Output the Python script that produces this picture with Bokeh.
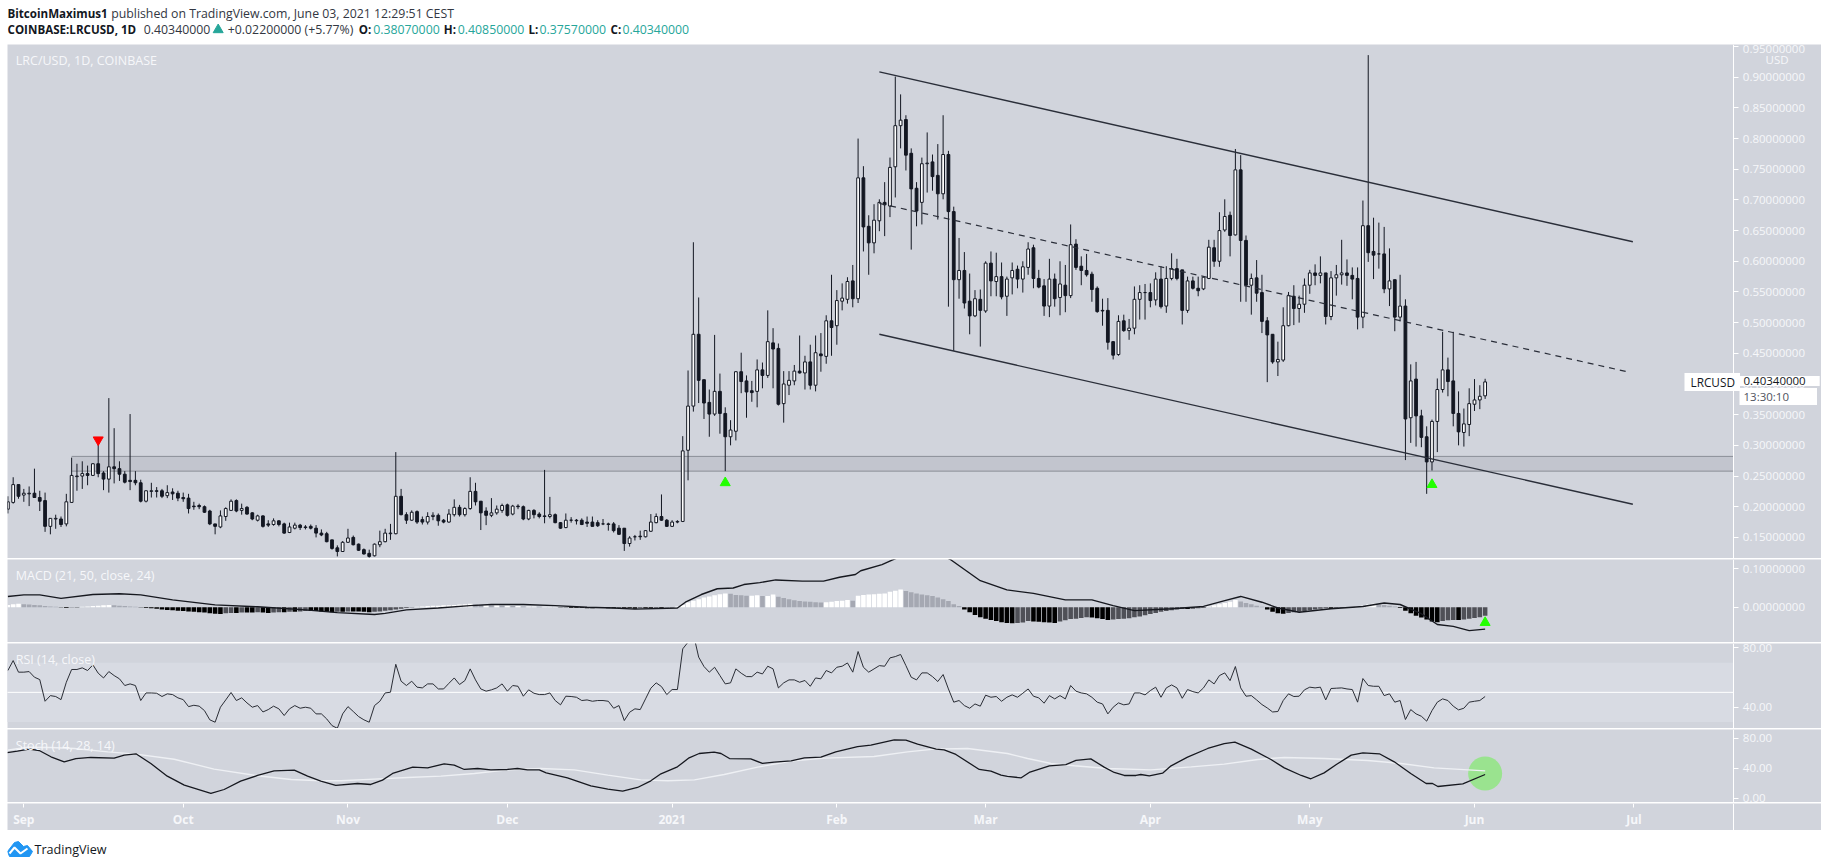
from bokeh.plotting import figure
from bokeh.layouts import column
from bokeh.models import (Range1d, FixedTicker, Label, ColumnDataSource)
from bokeh.embed import file_html
from bokeh.resources import INLINE

# ---------- data (days counted from 2020-09-01) ----------
first_day = -3
opens = [
 .196,.207,.236,.219,.221,.222,.215,.210,.168,.180,
 .180,.172,.207,.249,.250,.254,.251,.270,.255,.245,
 .265,.262,.253,.243,.243,.239,.209,.225,.226,.226,
 .218,.224,.222,.215,.214,.201,.202,.200,.193,.172,
 .167,.184,.194,.210,.194,.199,.190,.178,.185,.172,
 .171,.177,.172,.158,.165,.170,.167,.168,.165,.157,
 .156,.146,.133,.127,.142,.150,.139,.130,.124,.120,
 .138,.143,.156,.156,.217,.187,.178,.192,.179,.175,
 .184,.186,.178,.175,.187,.199,.187,.197,.225,.209,
 .193,.186,.190,.194,.203,.188,.201,.200,.180,.194,
 .188,.185,.184,.187,.174,.166,.178,.178,.178,.175,
 .175,.174,.172,.172,.172,.165,.165,.140,.151,.152,
 .151,.160,.174,.184,.178,.168,.175,.176,.292,.364,
 .481,.407,.370,.351,.388,.352,.314,.323,.420,.405,
 .389,.388,.423,.414,.467,.458,.368,.398,.405,.421,
 .418,.436,.398,.449,.445,.503,.495,.535,.538,.568,
 .539,.736,.657,.630,.666,.696,.690,.754,.821,.831,
 .776,.719,.696,.759,.762,.740,.710,.774,.681,.570,
 .585,.535,.511,.538,.519,.597,.567,.575,.543,.573,
 .587,.571,.590,.622,.572,.560,.527,.571,.541,.561,
 .544,.628,.592,.585,.579,.556,.520,.520,.469,.448,
 .503,.487,.491,.538,.549,.549,.537,.571,.527,.572,
 .588,.586,.520,.568,.556,.555,.572,.622,.600,.651,
 .675,.643,.749,.634,.561,.573,.549,.503,.481,.436,
 .439,.495,.543,.523,.530,.561,.581,.577,.581,.510,
 .573,.578,.581,.577,.572,.509,.658,.616,.612,.612,
 .555,.570,.509,.527,.345,.408,.348,.314,.273,.339,
 .391,.423,.405,.352,.321,.334,.367,.374,.3807]
highs = [
 .217,.248,.236,.229,.233,.262,.226,.223,.181,.187,
 .184,.221,.280,.270,.274,.267,.271,.302,.258,.377,
 .328,.274,.258,.351,.258,.244,.226,.239,.232,.229,
 .235,.230,.226,.223,.221,.208,.205,.202,.195,.172,
 .194,.199,.212,.212,.205,.201,.191,.187,.186,.178,
 .181,.178,.174,.174,.174,.172,.170,.171,.170,.163,
 .159,.146,.137,.144,.164,.153,.140,.132,.130,.140,
 .161,.164,.172,.289,.229,.191,.194,.194,.184,.191,
 .191,.189,.180,.196,.212,.203,.199,.248,.239,.209,
 .199,.214,.202,.205,.205,.203,.204,.202,.195,.196,
 .191,.260,.216,.189,.175,.189,.183,.180,.181,.184,
 .184,.178,.180,.174,.175,.170,.165,.152,.154,.161,
 .162,.188,.189,.220,.180,.178,.178,.315,.422,.631,
 .541,.407,.391,.480,.417,.362,.341,.421,.451,.414,
 .405,.440,.435,.520,.491,.466,.421,.421,.431,.479,
 .446,.464,.479,.483,.512,.578,.553,.564,.574,.594,
 .800,.755,.675,.693,.701,.729,.769,.901,.872,.838,
 .784,.729,.769,.810,.774,.791,.838,.780,.689,.638,
 .615,.580,.553,.554,.600,.616,.614,.598,.575,.598,
 .593,.600,.631,.627,.586,.571,.604,.580,.600,.594,
 .660,.636,.608,.612,.583,.559,.539,.540,.470,.512,
 .513,.506,.559,.561,.563,.564,.582,.592,.592,.613,
 .604,.586,.575,.575,.575,.576,.635,.635,.680,.701,
 .681,.783,.773,.642,.580,.602,.578,.509,.481,.469,
 .525,.550,.561,.544,.572,.586,.595,.608,.581,.584,
 .594,.635,.603,.590,.590,.699,.936,.671,.663,.656,
 .621,.570,.578,.538,.432,.436,.358,.331,.342,.409,
 .485,.443,.485,.388,.360,.393,.408,.398,.4085]
lows = [
 .189,.205,.213,.208,.201,.215,.193,.159,.155,.164,
 .167,.168,.207,.226,.229,.235,.250,.248,.227,.223,
 .238,.242,.238,.227,.235,.207,.207,.215,.215,.214,
 .214,.211,.209,.208,.189,.195,.196,.190,.170,.155,
 .165,.177,.193,.191,.187,.187,.178,.176,.166,.167,
 .169,.168,.156,.157,.163,.162,.163,.163,.150,.152,
 .142,.130,.119,.127,.141,.137,.128,.122,.117,.119,
 .134,.142,.146,.155,.186,.172,.177,.172,.171,.171,
 .178,.169,.173,.174,.184,.184,.184,.195,.202,.162,
 .170,.183,.187,.190,.184,.186,.196,.178,.178,.181,
 .181,.173,.181,.173,.164,.165,.174,.171,.170,.167,
 .168,.167,.170,.161,.158,.154,.128,.135,.145,.146,
 .150,.159,.173,.177,.167,.167,.173,.175,.243,.355,
 .369,.343,.314,.348,.319,.258,.300,.308,.385,.345,
 .371,.362,.393,.410,.393,.365,.337,.382,.398,.417,
 .391,.391,.388,.420,.433,.446,.464,.520,.531,.525,
 .532,.616,.578,.613,.649,.641,.672,.704,.784,.748,
 .619,.657,.660,.712,.715,.668,.701,.526,.454,.539,
 .523,.481,.509,.461,.516,.543,.543,.538,.511,.546,
 .556,.549,.578,.556,.556,.511,.509,.526,.512,.517,
 .540,.586,.561,.575,.534,.516,.495,.456,.440,.446,
 .485,.472,.481,.505,.505,.525,.528,.523,.516,.569,
 .569,.497,.516,.554,.543,.553,.571,.591,.591,.648,
 .608,.642,.534,.534,.513,.534,.483,.403,.433,.413,
 .436,.494,.496,.500,.516,.547,.561,.564,.497,.504,
 .544,.562,.560,.538,.489,.491,.599,.571,.588,.548,
 .527,.486,.502,.276,.304,.298,.297,.221,.259,.289,
 .386,.380,.331,.300,.298,.315,.356,.359,.3757]
closes = [
 .208,.236,.217,.222,.222,.215,.209,.168,.181,.181,
 .171,.208,.251,.250,.254,.251,.270,.254,.245,.265,
 .262,.253,.240,.241,.239,.209,.226,.226,.225,.217,
 .223,.221,.214,.213,.197,.200,.200,.191,.172,.168,
 .185,.197,.209,.193,.197,.188,.180,.185,.168,.170,
 .177,.171,.157,.167,.170,.166,.166,.165,.157,.154,
 .143,.132,.127,.142,.149,.138,.129,.123,.119,.139,
 .143,.157,.157,.217,.187,.178,.191,.175,.175,.184,
 .186,.177,.175,.188,.199,.187,.197,.225,.208,.190,
 .186,.190,.196,.202,.186,.201,.200,.180,.194,.187,
 .184,.184,.187,.174,.165,.178,.178,.177,.171,.173,
 .168,.169,.172,.171,.161,.155,.140,.149,.151,.151,
 .161,.175,.184,.178,.168,.175,.176,.291,.364,.481,
 .406,.369,.351,.388,.352,.314,.325,.420,.404,.387,
 .386,.423,.414,.469,.457,.367,.400,.406,.421,.418,
 .436,.398,.451,.446,.503,.492,.536,.540,.567,.539,
 .736,.656,.630,.667,.696,.692,.753,.821,.830,.773,
 .718,.682,.759,.760,.738,.710,.774,.681,.570,.585,
 .532,.511,.539,.520,.597,.568,.575,.542,.571,.585,
 .571,.591,.620,.572,.558,.527,.571,.539,.563,.544,
 .627,.590,.585,.578,.554,.518,.519,.468,.447,.502,
 .487,.491,.538,.549,.549,.536,.571,.526,.572,.588,
 .572,.520,.568,.556,.552,.574,.623,.600,.650,.673,
 .642,.749,.634,.561,.572,.548,.502,.480,.436,.440,
 .495,.544,.523,.530,.561,.581,.577,.581,.510,.573,
 .578,.581,.577,.571,.509,.658,.614,.610,.612,.555,
 .568,.509,.527,.343,.405,.348,.313,.273,.339,.391,
 .423,.404,.352,.322,.335,.368,.374,.380,.4034]

macd_hist = [
 .006,.008,.009,.008,.007,.006,.005,.003,.002,.001,
 -.001,-.002,-.001,-.001,.001,.002,.003,.004,.005,.006,
 .005,.004,.003,.002,.001,-.001,-.002,-.003,-.004,-.006,
 -.007,-.008,-.009,-.010,-.011,-.012,-.013,-.014,-.016,-.017,
 -.018,-.016,-.015,-.015,-.014,-.014,-.014,-.013,-.014,-.015,
 -.014,-.013,-.013,-.012,-.012,-.011,-.010,-.010,-.010,-.011,
 -.012,-.013,-.012,-.012,-.011,-.011,-.011,-.012,-.013,-.012,
 -.011,-.009,-.008,-.006,-.004,-.002,-.001,.001,.002,.003,
 .004,.004,.005,.005,.006,.007,.008,.009,.007,.006,
 .006,.005,.005,.004,.004,.003,.003,.002,.002,.002,
 .001,.001,.001,.001,-.001,-.001,-.002,-.002,-.002,-.003,
 -.003,-.002,-.002,-.003,-.003,-.002,-.002,-.003,-.004,-.003,
 -.003,-.003,-.002,-.002,-.001,-.001,.002,.006,.012,.017,
 .021,.025,.028,.031,.034,.036,.035,.032,.031,.030,
 .030,.031,.029,.029,.033,.027,.024,.021,.018,.016,
 .015,.014,.013,.012,.013,.014,.016,.017,.019,.017,
 .030,.032,.033,.034,.035,.036,.040,.043,.046,.042,
 .039,.036,.033,.031,.029,.025,.021,.016,.008,.003,
 -.006,-.013,-.020,-.026,-.030,-.033,-.036,-.039,-.041,-.042,
 -.041,-.040,-.036,-.037,-.038,-.039,-.040,-.041,-.037,-.034,
 -.031,-.030,-.028,-.026,-.027,-.029,-.031,-.033,-.032,-.031,
 -.030,-.029,-.026,-.024,-.021,-.018,-.015,-.012,-.010,-.008,
 -.006,-.005,-.005,-.004,-.003,-.002,.002,.005,.008,.011,
 .014,.019,.015,.011,.008,.004,.001,-.006,-.012,-.016,
 -.017,-.015,-.013,-.012,-.010,-.008,-.006,-.004,-.003,-.005,
 -.003,-.002,-.001,-.001,.002,.004,.007,.009,.007,.006,
 .004,.002,-.002,-.009,-.016,-.022,-.027,-.032,-.037,-.039,
 -.036,-.034,-.033,-.033,-.032,-.030,-.028,-.026,-.022]

macd_days = [-3,0,3,7,13,18,22,28,36,44,53,59,66,68,72,78,84,88,94,100,106,111,115,123,124.5,127.5,130.5,133.5,135.5,138.5,141.5,146.5,
             150.5,153.5,156.5,157.5,161.5,163.5,169.5,174.5,180,185,190,196,201,205,209,216,222,226,229,233,236,240,246,252,256,259,263,266,269,272,275]
macd_line = [.028,.032,.032,.023,.033,.035,.032,.019,.006,.001,-.007,-.014,-.019,-.016,-.007,-.002,.004,.007,.007,.004,0,-.002,-.005,-.002,.013,.033,.048,.050,.059,.064,.071,.068,
             .068,.078,.085,.095,.111,.123,.160,.123,.069,.045,.036,.019,.019,.004,-.009,-.004,.002,.017,.028,.013,-.002,-.013,-.004,.002,.011,.007,-.017,-.045,-.050,-.061,-.057]

rsi_values = [
 64.7,71.4,63.6,63.6,64.0,60.2,58.6,44.0,47.8,47.2,
 45.1,56.8,65.4,65.4,66.5,64.7,68.5,62.9,59.7,64.0,
 61.3,59.1,54.6,55.7,54.6,44.5,49.6,49.6,49.4,47.2,
 49.0,48.5,46.3,45.1,40.4,41.3,40.7,37.7,31.5,29.9,
 40.0,44.9,49.9,44.5,46.3,42.9,40.0,41.1,36.8,38.4,
 40.7,38.9,34.4,38.9,41.1,39.3,40.0,39.3,35.5,35.5,
 32.1,27.6,25.8,35.5,40.4,37.1,33.7,31.5,29.9,41.1,
 44.0,49.6,50.1,68.9,57.5,54.6,57.5,53.5,53.0,55.7,
 55.7,52.3,52.3,56.1,59.7,55.3,57.9,65.8,58.4,52.3,
 50.8,51.7,53.0,55.7,50.8,54.6,54.1,47.4,51.7,49.4,
 48.5,48.5,49.6,44.5,41.6,47.4,47.2,46.7,44.5,44.9,
 44.0,44.5,44.5,44.0,39.3,41.1,31.0,36.6,38.9,38.4,
 45.6,52.8,56.4,53.9,48.5,51.9,51.9,79.3,83.8,89.4,
 73.7,67.4,63.6,66.9,61.3,55.7,56.4,65.8,62.9,60.6,
 60.6,63.6,62.4,67.6,65.8,53.0,56.4,58.4,58.4,56.8,
 58.0,54.1,59.7,59.1,64.7,63.1,66.9,67.6,69.8,63.6,
 77.5,66.9,63.6,65.8,68.0,67.6,73.2,74.1,75.5,68.0,
 60.2,58.4,63.1,63.1,60.6,57.3,62.0,52.3,43.4,44.5,
 41.1,39.3,42.2,40.7,48.1,46.7,47.2,44.0,46.7,48.3,
 46.7,49.4,52.3,47.4,46.3,42.7,47.8,45.6,47.8,45.6,
 54.6,50.8,49.6,49.0,46.7,43.4,42.2,35.5,40.0,42.9,
 41.6,42.2,49.6,49.6,48.3,51.2,53.5,46.7,53.0,55.0,
 53.0,46.0,51.9,50.5,49.6,53.0,58.4,55.7,61.3,63.1,
 57.9,67.4,53.0,47.4,47.8,44.9,41.8,39.5,36.8,37.1,
 44.5,49.0,47.2,47.4,51.7,53.5,53.0,53.5,44.9,52.6,
 52.8,53.0,52.3,51.9,43.4,59.3,54.6,54.1,54.1,47.8,
 49.0,43.4,44.5,31.7,38.4,35.5,33.9,30.6,37.7,43.4,
 45.6,44.5,40.7,38.2,39.3,43.4,44.0,44.5,47.2]

stoch_k_days = [-3.1,-1.2,1,2.9,5.1,7.6,9.8,12.6,17,18.9,21.1,23.9,27,30.2,35.2,37.7,40.8,44,47.1,50.9,53.4,55.9,58.7,62.8,65.3,67.5,69.4,73.2,76,79.1,81,82.9,85.4,87.9,91,
                92.9,94.8,97,98.3,102.3,106.7,109.9,112.7,115.5,118,119.9,123,125.2,127.1,129.9,131.2,132.8,136.8,139,141.2,144.4,146.9,150,152.8,156.9,159.4,163.8,166,168.2,171.7,173.2,175.4,179.8,182,183.9,
                185.1,187.7,189.2,193,196.1,198,200.8,203.3,205.2,207.1,209.3,210.2,211.8,214.3,215.9,219,222.8,225.9,227.9,231,234.7,237.2,240.4,242.2,244.7,247,249.8,252,255.1,257.9,261,263.9,265.1,266.1,270.8,275]
stoch_k = [60.9,62.7,65.4,63.6,55.2,48.5,52.9,54.3,53.4,57.4,59.2,46.3,29.4,17.4,6.3,11.6,22.7,30.3,36.5,37.4,29.4,22.7,17.0,19.6,18.3,24.1,33.0,41.4,40.5,45.8,44.0,38.3,39.6,37.8,38.3,
           39.6,37.8,37.8,33.8,27.2,16.5,12.1,9.4,14.3,23.2,32.5,41.8,53.8,59.6,61.4,59.6,52.9,52.5,46.3,48.0,49.8,53.8,54.7,61.8,68.9,70.7,77.8,77.4,72.0,65.4,64.5,58.3,38.3,36.0,30.7,
           29.0,27.2,34.3,43.2,44.9,50.3,52.5,41.4,34.3,30.3,30.3,31.6,29.9,33.4,43.2,54.7,66.3,72.9,74.7,65.4,51.6,40.5,30.3,25.9,33.8,44.9,57.4,60.5,59.2,48.5,33.0,19.6,19.6,15.6,19.2,31.6]
stoch_d_days = [-3.1,.7,5.1,9.5,15.8,21.1,28.3,35.8,44,50.3,55.9,59.7,65.9,72.2,78.5,84.8,
                91,97.3,103.6,109.9,116.1,121.2,126.2,131.8,138.1,144.4,150.6,160,166.3,171.3,177.6,
                185.1,188.9,193.3,197.7,204,212.1,219.7,225.9,232.2,237.2,244.7,252.9,259.2,265.4,275]
stoch_d = [64.0,68.0,67.6,66.3,61.8,58.7,52.0,38.7,29.9,25.0,23.2,23.2,25.4,27.6,29.4,33.0,
           37.8,39.6,37.8,30.7,24.5,23.2,24.5,31.6,41.4,49.4,53.4,55.6,61.8,65.4,66.3,
           59.6,52.9,46.3,43.2,39.6,37.8,41.8,45.4,51.6,54.3,52.9,50.3,46.3,40.5,36.5]

# trend channel and support band
channel_days = [161, 302.8]
channel_top = [.9086, .6318]
channel_mid_days = [161, 302.2]
channel_mid = [.6943, .419]
channel_low = [.481, .204]
band_start_day = 9
band_low, band_high = .258, .282
rsi_band = (30, 70)
rsi_mid = 50
red_marker = ([14], [.309])
green_markers = ([132, 265], [.239, .236])
macd_marker = ([275], [-.040])
stoch_circle = ([275], [33.0])

price_ticks = [.15,.20,.25,.30,.35,.40,.45,.50,.55,.60,.65,.70,.75,.80,.85,.90,.95]
price_tick_labels = ["0.15000000","0.20000000","0.25000000","0.30000000","0.35000000","0.40000000","0.45000000","0.50000000",
                     "0.55000000","0.60000000","0.65000000","0.70000000","0.75000000","0.80000000","0.85000000","0.90000000","0.95000000"]
macd_ticks = [0.0, 0.1]
macd_tick_labels = ["0.00000000", "0.10000000"]
rsi_ticks = [40, 80]
rsi_tick_labels = ["40.00", "80.00"]
stoch_ticks = [0, 40, 80]
stoch_tick_labels = ["0.00", "40.00", "80.00"]
month_days = [0, 30, 61, 91, 122, 153, 181, 212, 242, 273, 303]
month_labels = ["Sep", "Oct", "Nov", "Dec", "2021", "Feb", "Mar", "Apr", "May", "Jun", "Jul"]

assert len(opens) == len(highs) == len(lows) == len(closes) == len(macd_hist) == len(rsi_values)
assert len(stoch_k_days) == len(stoch_k) and len(stoch_d_days) == len(stoch_d) and len(macd_days) == len(macd_line)
days = list(range(first_day, first_day + len(opens)))
assert days[-1] == 275

# ---------- styling ----------
W = 1814
BG = "#d1d4dc"
INK = "#131722"
TXT = "#f6f7fa"
FONT = "Open Sans"
AXIS_DAY = 321.8
xr = Range1d(-3.07, 338.3)

def base(h, yr, ticks=None, labels=None, xloc=None):
    p = figure(width=W, height=h, x_range=xr, y_range=Range1d(*yr), output_backend="svg",
               toolbar_location=None, x_axis_location=xloc, y_axis_location="right",
               background_fill_color=BG, border_fill_color=BG, min_border=0)
    p.outline_line_color = None
    p.grid.visible = False
    ax = p.yaxis[0]
    ax.fixed_location = AXIS_DAY
    ax.axis_line_color = "#ffffff"
    ax.axis_line_width = 1
    ax.major_tick_line_color = "#ffffff"
    ax.major_tick_out = 5
    ax.major_tick_in = 0
    ax.minor_tick_out = 0
    ax.minor_tick_in = 0
    ax.major_label_text_color = TXT
    ax.major_label_text_font = FONT
    ax.major_label_text_font_size = "11.5px"
    ax.major_label_standoff = 4
    if ticks is not None:
        ax.ticker = FixedTicker(ticks=ticks)
        ax.major_label_overrides = dict(zip(ticks, labels))
    else:
        ax.ticker = FixedTicker(ticks=[])
    return p

def text(p, h, x, y, s, color=TXT, size="12.5px", style="normal", **kw):
    lab = Label(x=x, y=h - y, x_units="screen", y_units="screen", text=s, text_color=color,
                text_font=FONT, text_font_size=size, text_font_style=style,
                text_baseline="middle", **kw)
    p.add_layout(lab)
    return lab

# ---------- header ----------
hdr = figure(width=W, height=43, x_range=Range1d(0, W), y_range=Range1d(43, 0), output_backend="svg",
             toolbar_location=None, x_axis_location=None, y_axis_location=None,
             background_fill_color="#ffffff", border_fill_color="#ffffff", min_border=0)
hdr.outline_line_color = None
hdr.grid.visible = False
TEAL = "#26a69a"
GREYTXT = "#333742"
def ht(x, y, s, color=INK, style="normal", size="12.3px"):
    hdr.add_layout(Label(x=x, y=y, text=s, text_color=color, text_font=FONT, text_font_size=size,
                         text_font_style=style, text_baseline="middle"))
B = "11.6px"
ht(0, 12.7, "BitcoinMaximus1", style="bold", size=B)
ht(103.7, 12.7, "published on TradingView.com, June 03, 2021 12:29:51 CEST", color=GREYTXT)
ht(0, 29.3, "COINBASE:LRCUSD, 1D", style="bold", size=B)
ht(136.3, 29.3, "0.40340000", color=GREYTXT)
hdr.scatter([210.7], [29.3], marker="triangle", size=10, color=TEAL)
ht(220.3, 29.3, "+0.02200000 (+5.77%)", color=GREYTXT)
ht(351.3, 29.3, "O:", style="bold", size=B); ht(365.7, 29.3, "0.38070000", color=TEAL)
ht(436.3, 29.3, "H:", style="bold", size=B); ht(450.3, 29.3, "0.40850000", color=TEAL)
ht(521, 29.3, "L:", style="bold", size=B); ht(532, 29.3, "0.37570000", color=TEAL)
ht(603, 29.3, "C:", style="bold", size=B); ht(615, 29.3, "0.40340000", color=TEAL)

# ---------- main panel ----------
MH = 514
main = base(MH, (.1156, .9533), price_ticks, price_tick_labels)
main.quad(left=[band_start_day], right=[AXIS_DAY], bottom=[band_low], top=[band_high],
          fill_color="#c2c5ce", line_color=None)
main.segment(x0=[band_start_day, band_start_day], x1=[AXIS_DAY, AXIS_DAY], y0=[band_low, band_high], y1=[band_low, band_high],
             line_color="#8b8e97", line_width=1)

src = ColumnDataSource(dict(
    x=days, hi=highs, lo=lows,
    top=[max(o, c) for o, c in zip(opens, closes)],
    bot=[min(o, c) for o, c in zip(opens, closes)],
    fill=["#ffffff" if c >= o else INK for o, c in zip(opens, closes)]))
main.segment(x0="x", x1="x", y0="lo", y1="hi", source=src, line_color=INK, line_width=1)
main.vbar(x="x", width=0.52, top="top", bottom="bot", source=src, fill_color="fill", line_color=INK, line_width=1)

main.line(channel_days, channel_top, line_color="#2a2e39", line_width=1.4)
main.line(channel_days, channel_low, line_color="#2a2e39", line_width=1.4)
main.line(channel_mid_days, channel_mid, line_color="#2a2e39", line_width=1.2, line_dash=[6, 5])
main.scatter(*red_marker, marker="inverted_triangle", size=10, color="#ff0000")
main.scatter(*green_markers, marker="triangle", size=10, color="#22ff00")

text(main, MH, 8.3, 15.7, "LRC/USD, 1D, COINBASE")
text(main, MH, 1758, 15, "USD", size="11.5px")
text(main, MH, 1677, 337.5, "LRCUSD", color=INK, size="11.8px", background_fill_color="#ffffff", padding=(6, 5, 1, 1))
text(main, MH, 1732, 336.5, "0.40340000", color=INK, size="11.5px", background_fill_color="#ffffff", padding=(4, 14, 1, 1))
text(main, MH, 1732, 352, "13:30:10", color="#50535e", size="11.5px", background_fill_color="#ffffff", padding=(4, 28, 1, 1))

# ---------- MACD ----------
MA = 83
macd = base(MA, (-.0919, .1242), macd_ticks, macd_tick_labels)
hist_colors = []
prev = macd_hist[0]
for v in macd_hist:
    if v >= 0:
        hist_colors.append("#ffffff" if v >= prev else "#a5a8b2")
    else:
        hist_colors.append("#000000" if v <= prev else "#4f5057")
    prev = v
macd.vbar(x=days, width=0.86, top=[max(v, 0) for v in macd_hist], bottom=[min(v, 0) for v in macd_hist],
          fill_color=hist_colors, line_color=None)
macd.line(macd_days, macd_line, line_color="#16181f", line_width=1.4)
macd.scatter(*macd_marker, marker="triangle", size=10, color="#22ff00")
text(macd, MA, 8.3, 16, "MACD (21, 50, close, 24)")

# ---------- RSI ----------
RH = 85
rsi = base(RH, (25.66, 82.9), rsi_ticks, rsi_tick_labels)
rsi.quad(left=[first_day - 1], right=[AXIS_DAY], bottom=[rsi_band[0]], top=[rsi_band[1]], fill_color="#d8dbe3", line_color=None)
rsi.segment(x0=[first_day - 1], x1=[AXIS_DAY], y0=[rsi_mid], y1=[rsi_mid], line_color="#ffffff", line_width=1)
rsi.line(days, rsi_values, line_color="#2a2d35", line_width=1)
text(rsi, RH, 8.3, 16, "RSI (14, close)")

# ---------- Stoch ----------
SH = 73
stoch = base(SH, (-5.73, 91.6), stoch_ticks, stoch_tick_labels)
stoch.scatter(*stoch_circle, marker="circle", size=34, color="#9ae38f", line_color=None)
stoch.line(stoch_d_days, stoch_d, line_color="#eef0f4", line_width=1.4)
stoch.line(stoch_k_days, stoch_k, line_color="#16181f", line_width=1.3)
text(stoch, SH, 8.3, 16.3, "Stoch (14, 28, 14)")

# ---------- time axis ----------
TH = 27
tax = base(TH, (0, 1), xloc="below")
xa = tax.xaxis[0]
xa.fixed_location = 1.0
xa.ticker = FixedTicker(ticks=month_days)
xa.major_label_overrides = dict(zip(month_days, month_labels))
xa.axis_line_color = None
xa.major_tick_line_color = "#ffffff"
xa.major_tick_out = 4
xa.major_tick_in = 0
xa.minor_tick_out = 0
xa.minor_tick_in = 0
xa.major_label_text_color = TXT
xa.major_label_text_font = FONT
xa.major_label_text_font_size = "12px"
xa.major_label_text_font_style = "bold"
xa.major_label_standoff = 3

# ---------- footer with logo ----------
logo_x = [0, 7, 11, 16, 20, 25, 22, 2]
logo_y = [21, 12, 11, 16, 15, 21, 26, 26]
zig_x = [2, 7, 13, 20]
zig_y = [23, 17, 23, 18]
fH = 35
ftr = figure(width=W, height=fH, x_range=Range1d(0, W), y_range=Range1d(36, 1), output_backend="svg",
             toolbar_location=None, x_axis_location=None, y_axis_location=None,
             background_fill_color="#ffffff", border_fill_color="#ffffff", min_border=0)
ftr.outline_line_color = None
ftr.grid.visible = False
ftr.patch(logo_x, logo_y, fill_color="#2196f3", line_color="#2196f3")
ftr.line(zig_x, zig_y, line_color="#ffffff", line_width=2)
ftr.add_layout(Label(x=27, y=18.5, text="TradingView", text_color=INK, text_font=FONT, text_font_size="12.6px",
                     text_baseline="middle"))

layout = column(hdr, main, macd, rsi, stoch, tax, ftr, spacing=1,
                styles={"position": "absolute", "left": "7px", "top": "0px"})
open("out.html", "w").write(file_html(layout, INLINE))
